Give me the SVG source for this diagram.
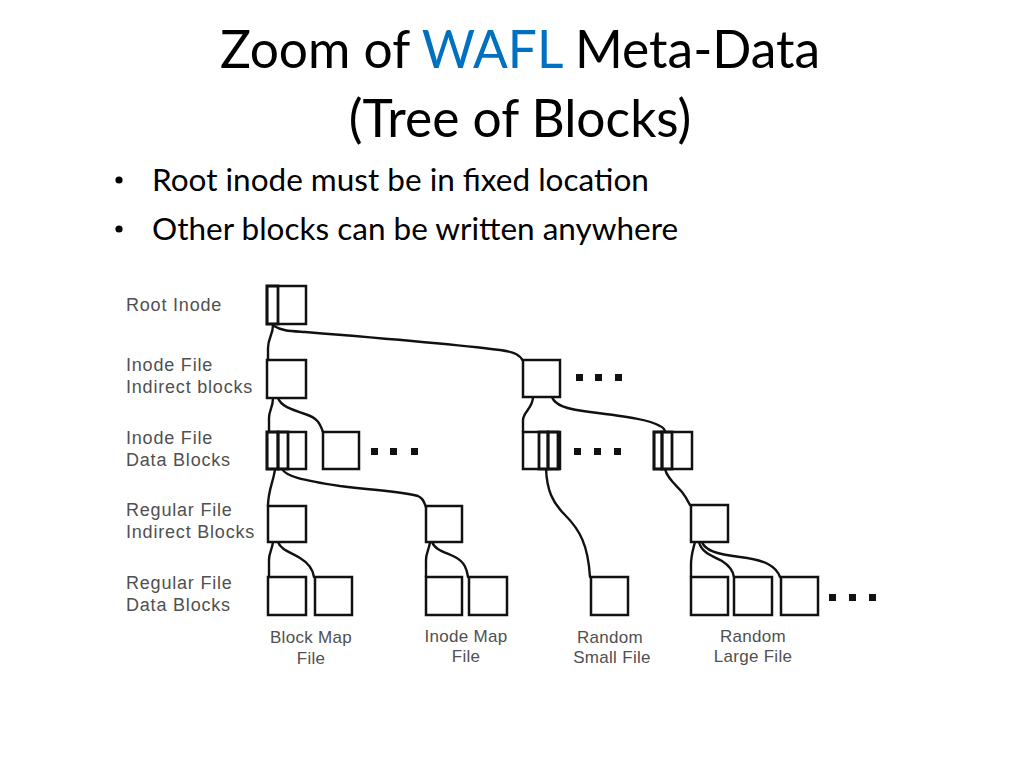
<svg xmlns="http://www.w3.org/2000/svg" width="1024" height="768" viewBox="0 0 1024 768">
<style>
.title{font-family:Lato,"Open Sans",sans-serif;font-size:51.5px;fill:#000;text-anchor:middle}
.bul{font-family:Lato,"Open Sans",sans-serif;font-size:31.5px;fill:#000}
.lbl{font-family:"Liberation Sans",Arial,sans-serif;font-size:18px;letter-spacing:0.8px;fill:#505050}
.cap{font-family:"Liberation Sans",Arial,sans-serif;font-size:17px;letter-spacing:0.3px;fill:#505050;text-anchor:middle}
.box{fill:#fff;stroke:#111;stroke-width:2.5}
.nar{fill:none;stroke:#111;stroke-width:2.8}
.dot{fill:#111}
.con{fill:none;stroke:#111;stroke-width:2.4;stroke-linecap:round}
</style>
<rect width="1024" height="768" fill="#fff"/>
<g id="title">
<text class="title" x="520" y="68">Zoom of <tspan fill="#0070C0">WAFL</tspan> Meta-Data</text>
<text class="title" x="520" y="137">(Tree of Blocks)</text>
</g>
<g id="bullets">
<circle cx="119" cy="180" r="3.6" fill="#000"/>
<text class="bul" x="152" y="191">Root inode must be in fixed location</text>
<circle cx="119" cy="229" r="3.6" fill="#000"/>
<text class="bul" x="152" y="240">Other blocks can be written anywhere</text>
</g>
<g id="row-labels">
<text class="lbl" x="126" y="311">Root Inode</text>
<text class="lbl" x="126" y="371">Inode File</text>
<text class="lbl" x="126" y="393">Indirect blocks</text>
<text class="lbl" x="126" y="444">Inode File</text>
<text class="lbl" x="126" y="466">Data Blocks</text>
<text class="lbl" x="126" y="516">Regular File</text>
<text class="lbl" x="126" y="538">Indirect Blocks</text>
<text class="lbl" x="126" y="589">Regular File</text>
<text class="lbl" x="126" y="611">Data Blocks</text>
</g>
<g id="connectors">
<path class="con" d="M273,325 C273,335 268,338 268,348 L268,360"/>
<path class="con" d="M274,326 C282,331 290,331 305,332 C380,338 460,345 500,350 C515,352 520,355 523,361"/>
<path class="con" d="M273,398 C273,408 269,410 269,418 L269,432"/>
<path class="con" d="M278,398 C281,406 290,409 305,414 C318,418 320,424 323,432"/>
<path class="con" d="M275,469 C274,480 268,490 268,506"/>
<path class="con" d="M282,469 C286,476 300,480 340,486 C380,491 400,491 418,496 C423,498 424,502 426,507"/>
<path class="con" d="M273,542 C272,550 269,553 269,560 L269,577"/>
<path class="con" d="M278,542 C281,550 290,552 300,558 C310,564 313,570 314,577"/>
<path class="con" d="M430,542 C429,550 426,553 426,560 L426,577"/>
<path class="con" d="M432,542 C435,550 445,552 455,557 C465,562 467,570 468,577"/>
<path class="con" d="M533,397 C533,408 523,412 523,420 L523,432"/>
<path class="con" d="M552,397 C555,405 565,409 590,412 C630,417 650,420 660,426 C664,428 665,430 665,432"/>
<path class="con" d="M546,469 C547,490 552,502 565,515 C580,530 588,545 590,577"/>
<path class="con" d="M665,469 C667,478 675,484 682,492 C686,497 688,501 690,505"/>
<path class="con" d="M695,542 C693,550 691,555 691,565 L691,577"/>
<path class="con" d="M699,542 C701,552 712,556 722,561 C730,566 733,571 734,577"/>
<path class="con" d="M702,542 C705,550 715,554 740,557 C765,560 776,566 780,577"/>
</g>
<g id="root-inode">
<rect class="box" x="267" y="286" width="39" height="38"/>
<rect class="nar" x="267" y="286" width="11" height="38"/>
</g>
<g id="inode-indirect-1"><rect class="box" x="267" y="360" width="39" height="38"/></g>
<g id="inode-indirect-2"><rect class="box" x="523" y="360" width="37" height="37"/></g>
<g id="inode-indirect-more">
<rect class="dot" x="576" y="374" width="7" height="7"/>
<rect class="dot" x="595" y="374" width="7" height="7"/>
<rect class="dot" x="615" y="374" width="7" height="7"/>
</g>
<g id="inode-data-1">
<rect class="box" x="267" y="432" width="39" height="37"/>
<rect class="nar" x="267" y="432" width="11" height="37"/>
<rect class="nar" x="278" y="432" width="10" height="37"/>
</g>
<g id="inode-data-2"><rect class="box" x="323" y="432" width="36" height="37"/></g>
<g id="inode-data-more-1">
<rect class="dot" x="371" y="448" width="7" height="7"/>
<rect class="dot" x="390" y="448" width="7" height="7"/>
<rect class="dot" x="411" y="448" width="7" height="7"/>
</g>
<g id="inode-data-3">
<rect class="box" x="523" y="432" width="37" height="37"/>
<rect class="nar" x="539" y="432" width="9" height="37"/>
<rect class="nar" x="548" y="432" width="10" height="37"/>
</g>
<g id="inode-data-more-2">
<rect class="dot" x="574" y="448" width="7" height="7"/>
<rect class="dot" x="594" y="448" width="7" height="7"/>
<rect class="dot" x="614" y="448" width="7" height="7"/>
</g>
<g id="inode-data-4">
<rect class="box" x="654" y="432" width="38" height="37"/>
<rect class="nar" x="654" y="432" width="8" height="37"/>
<rect class="nar" x="662" y="432" width="10" height="37"/>
</g>
<g id="reg-indirect-1"><rect class="box" x="268" y="506" width="38" height="36"/></g>
<g id="reg-indirect-2"><rect class="box" x="426" y="506" width="36" height="36"/></g>
<g id="reg-indirect-3"><rect class="box" x="691" y="505" width="37" height="37"/></g>
<g id="reg-data-1"><rect class="box" x="268" y="577" width="38" height="38"/></g>
<g id="reg-data-2"><rect class="box" x="315" y="577" width="37" height="38"/></g>
<g id="reg-data-3"><rect class="box" x="426" y="577" width="36" height="38"/></g>
<g id="reg-data-4"><rect class="box" x="469" y="577" width="38" height="38"/></g>
<g id="reg-data-5"><rect class="box" x="591" y="577" width="37" height="38"/></g>
<g id="reg-data-6"><rect class="box" x="691" y="577" width="37" height="38"/></g>
<g id="reg-data-7"><rect class="box" x="734" y="577" width="38" height="38"/></g>
<g id="reg-data-8"><rect class="box" x="781" y="577" width="37" height="38"/></g>
<g id="reg-data-more">
<rect class="dot" x="829" y="594" width="7" height="7"/>
<rect class="dot" x="849" y="594" width="7" height="7"/>
<rect class="dot" x="869" y="594" width="7" height="7"/>
</g>
<g id="file-labels">
<text class="cap" x="311" y="643">Block Map</text>
<text class="cap" x="311" y="664">File</text>
<text class="cap" x="466" y="642">Inode Map</text>
<text class="cap" x="466" y="662">File</text>
<text class="cap" x="610" y="643">Random</text>
<text class="cap" x="612" y="663">Small File</text>
<text class="cap" x="753" y="642">Random</text>
<text class="cap" x="753" y="662">Large File</text>
</g>
</svg>
